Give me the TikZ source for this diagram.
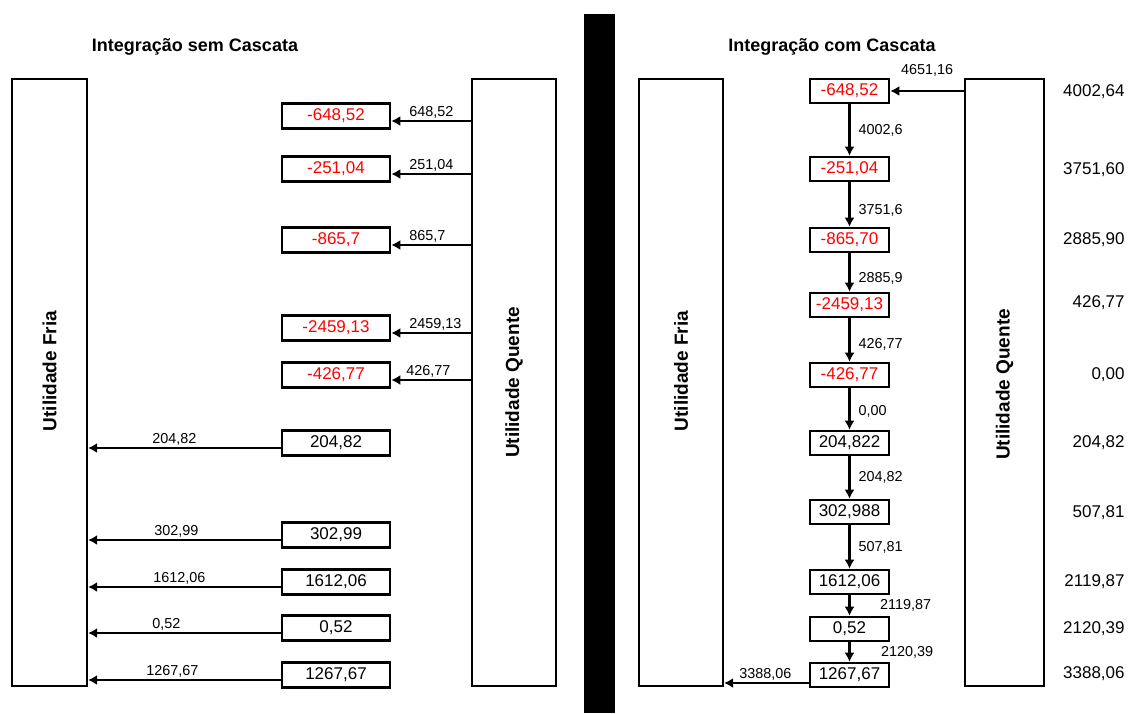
\documentclass[tikz,border=0pt]{standalone}
\usepackage{fontspec}
\setmainfont{Liberation Sans}
\usepackage{tikz}
\usetikzlibrary{arrows.meta}
\definecolor{negred}{RGB}{255,0,0}

\begin{document}
\begin{tikzpicture}[
    x=0.5pt, y=-0.5pt,
    util/.style={draw, line width=1.1pt, minimum height=303.5pt, inner sep=0pt},
    utxt/.style={rotate=90, inner sep=0pt, font=\fontsize{9.5}{11}\selectfont\bfseries},
    val/.style={draw, line width=1.3pt, minimum width=54pt, minimum height=12.5pt, inner sep=0pt, font=\fontsize{8.5}{10}\selectfont},
    cval/.style={val, minimum width=39.5pt, minimum height=12pt},
    neg/.style={text=negred},
    lbl/.style={inner sep=1pt, font=\fontsize{7.2}{8}\selectfont},
    cum/.style={inner sep=0pt, anchor=east, font=\fontsize{8.5}{10}\selectfont},
    ttl/.style={font=\fontsize{9}{11}\selectfont\bfseries},
    arr/.style={-{Latex[length=4.5pt,width=5pt]}, line width=1.15pt}
]
    \useasboundingbox (0,0) rectangle (1130,713);

    % Separator
    \fill (584,14) rectangle (615,713);

    % Integracao sem cascata (left)
    \node[ttl] (tsem) at (195,47) {Integração sem Cascata};
    \node[util, minimum width=37.5pt] (fl) at (49.5,382.5) {};
    \node[util, minimum width=42pt] (ql) at (514,382.5) {};
    \node[utxt] (flt) at ([yshift=5.75pt]fl.center) {Utilidade Fria};
    \node[utxt] (qlt) at (ql.center) {Utilidade Quente};

    \node[val, neg] (b1) at (336,116) {-648,52};
    \node[val, neg] (b2) at (336,169) {-251,04};
    \node[val, neg] (b3) at (336,240) {-865,7};
    \node[val, neg] (b4) at (336,328) {-2459,13};
    \node[val, neg] (b5) at (336,375) {-426,77};
    \node[val] (b6) at (336,443) {204,82};
    \node[val] (b7) at (336,535) {302,99};
    \node[val] (b8) at (336,582) {1612,06};
    \node[val] (b9) at (336,628) {0,52};
    \node[val] (b10) at (336,675) {1267,67};

    % Arrows: quente to deficits
    \draw[arr] ([yshift=-2.5pt]ql.west |- b1.east) -- ([yshift=-2.5pt]b1.east) node[lbl, pos=1, anchor=south west, xshift=7.5pt] {648,52};
    \draw[arr] ([yshift=-2.5pt]ql.west |- b2.east) -- ([yshift=-2.5pt]b2.east) node[lbl, pos=1, anchor=south west, xshift=7.5pt] {251,04};
    \draw[arr] ([yshift=-2.5pt]ql.west |- b3.east) -- ([yshift=-2.5pt]b3.east) node[lbl, pos=1, anchor=south west, xshift=7.5pt] {865,7};
    \draw[arr] ([yshift=-2.5pt]ql.west |- b4.east) -- ([yshift=-2.5pt]b4.east) node[lbl, pos=1, anchor=south west, xshift=7.5pt] {2459,13};
    \draw[arr] ([yshift=-2.5pt]ql.west |- b5.east) -- ([yshift=-2.5pt]b5.east) node[lbl, pos=1, anchor=south west, xshift=6pt] {426,77};

    % Arrows: surpluses to fria
    \draw[arr] ([yshift=-2.5pt]b6.west) -- ([yshift=-2.5pt]b6.west -| fl.east) node[lbl, pos=1, anchor=south west, xshift=30.5pt] {204,82};
    \draw[arr] ([yshift=-2.5pt]b7.west) -- ([yshift=-2.5pt]b7.west -| fl.east) node[lbl, pos=1, anchor=south west, xshift=31.5pt] {302,99};
    \draw[arr] ([yshift=-2.5pt]b8.west) -- ([yshift=-2.5pt]b8.west -| fl.east) node[lbl, pos=1, anchor=south west, xshift=31pt] {1612,06};
    \draw[arr] ([yshift=-2.5pt]b9.west) -- ([yshift=-2.5pt]b9.west -| fl.east) node[lbl, pos=1, anchor=south west, xshift=30.5pt] {0,52};
    \draw[arr] ([yshift=-2.5pt]b10.west) -- ([yshift=-2.5pt]b10.west -| fl.east) node[lbl, pos=1, anchor=south west, xshift=27.5pt] {1267,67};

    % Integracao com cascata (right)
    \node[ttl] (tcom) at (832,47) {Integração com Cascata};
    \node[util, minimum width=42pt] (fr) at (681,382.5) {};
    \node[util, minimum width=39.5pt] (qr) at (1004.5,382.5) {};
    \node[utxt] (frt) at ([yshift=5.75pt]fr.center) {Utilidade Fria};
    \node[utxt] (qrt) at ([yshift=-1pt]qr.center) {Utilidade Quente};

    \node[cval, neg] (r1) at (849.5,91) {-648,52};
    \node[cval, neg] (r2) at (849.5,169) {-251,04};
    \node[cval, neg] (r3) at (849.5,240) {-865,70};
    \node[cval, neg] (r4) at (849.5,305) {-2459,13};
    \node[cval, neg] (r5) at (849.5,375) {-426,77};
    \node[cval] (r6) at (849.5,443) {204,822};
    \node[cval] (r7) at (849.5,512) {302,988};
    \node[cval] (r8) at (849.5,582) {1612,06};
    \node[cval] (r9) at (849.5,629) {0,52};
    \node[cval] (r10) at (849.5,675) {1267,67};

    % Cascade
    \draw[arr] (qr.west |- r1.east) -- (r1.east) node[lbl, midway, above=6pt] {4651,16};
    \draw[arr] (r1) -- (r2) node[lbl, midway, right=3pt] {4002,6};
    \draw[arr] (r2) -- (r3) node[lbl, midway, right=3pt, yshift=-3pt] {3751,6};
    \draw[arr] (r3) -- (r4) node[lbl, midway, right=3pt, yshift=-3pt] {2885,9};
    \draw[arr] (r4) -- (r5) node[lbl, midway, right=3pt, yshift=-2pt] {426,77};
    \draw[arr] (r5) -- (r6) node[lbl, midway, right=3pt, yshift=-1pt] {0,00};
    \draw[arr] (r6) -- (r7) node[lbl, midway, right=3pt] {204,82};
    \draw[arr] (r7) -- (r8) node[lbl, midway, right=3pt] {507,81};
    \draw[arr] (r8) -- (r9) node[lbl, midway, right=13.75pt] {2119,87};
    \draw[arr] (r9) -- (r10) node[lbl, midway, right=14.25pt] {2120,39};
    \draw[arr] ([yshift=-4pt]r10.west) -- ([yshift=-4pt]r10.west -| fr.east) node[lbl, pos=1, anchor=south west, xshift=6pt] {3388,06};

    % Cumulative values
    \node[cum] (c1) at (1125,92) {4002,64};
    \node[cum] (c2) at (1125,170) {3751,60};
    \node[cum] (c3) at (1125,240) {2885,90};
    \node[cum] (c4) at (1125,303) {426,77};
    \node[cum] (c5) at (1125,375) {0,00};
    \node[cum] (c6) at (1125,443) {204,82};
    \node[cum] (c7) at (1125,513) {507,81};
    \node[cum] (c8) at (1125,582) {2119,87};
    \node[cum] (c9) at (1125,629) {2120,39};
    \node[cum] (c10) at (1125,674) {3388,06};
\end{tikzpicture}
\end{document}
